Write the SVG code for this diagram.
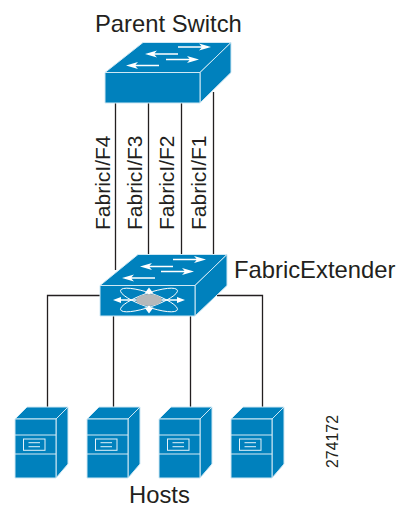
<svg xmlns="http://www.w3.org/2000/svg" width="397" height="508" viewBox="0 0 397 508">
<style>
text{font-family:"Liberation Sans",Arial,sans-serif;fill:#231f20;font-size:23.8px}
.v{font-size:21px}
.c{fill:none;stroke:#231f20;stroke-width:1.3}
.o{fill:#0081bd;stroke:#cfe8f4;stroke-width:1;stroke-linejoin:round}
.l{fill:none;stroke:#d5ebf5;stroke-width:1}
.a{fill:#fff;stroke:none}
.e{fill:none;stroke:#fff;stroke-width:0.9}
</style>
<defs>
<path id="ar" class="a" d="M0 0L-12 -3.400L-9.500 -0.800H-33V0.800H-9.500L-12 3.400z"/>
<path id="al" class="a" d="M0 0L12 -3.400L9.500 -0.800H33V0.800H9.500L12 3.400z"/>
<g id="host">
<path class="o" d="M0 12L12 0H53L41 12z"/>
<path class="o" d="M41 12L53 0V57L41 71z"/>
<path class="o" d="M0 12H41V71H0z"/>
<path class="l" d="M0 28H41M0 47H41"/>
<rect x="8.500" y="32" width="21.500" height="11.300" fill="#0081bd" stroke="#e4f2f9" stroke-width="1"/>
<path d="M13.500 35.700H25M13.500 39.700H25" stroke="#b5dcee" stroke-width="1.200"/>
</g>
</defs>
<g id="connectors">
<path class="c" d="M115.500 103V270M148.500 103V262M181.500 103V262M213.500 92V254"/>
<path class="c" d="M100 295.500H47.500V407M217 295.500H262.500V407M113.500 316V407M190.500 316V407"/>
</g>
<g id="parent-switch">
<path class="o" d="M105 72.500L143 42.500H231L200 72.500z"/>
<path class="o" d="M200 72.500L231 42.500V72.500L200 103z"/>
<rect class="o" x="105" y="72.500" width="95" height="30.500"/>
<use href="#ar" x="211" y="47"/>
<use href="#al" x="145" y="54"/>
<use href="#ar" x="199" y="59.500"/>
<use href="#al" x="126" y="65.500"/>
<text x="95" y="32">Parent Switch</text>
</g>
<g id="fabric-extender">
<path class="o" d="M100 285.500L138 254.500H227L195 285.500z"/>
<path class="o" d="M195 285.500L227 254.500V285.500L195 316z"/>
<rect class="o" x="100" y="285.500" width="95" height="30.500"/>
<use href="#ar" x="206" y="259.500"/>
<use href="#al" x="140" y="266.500"/>
<use href="#ar" x="194" y="271.500"/>
<use href="#al" x="122" y="278"/>
<ellipse class="e" cx="149" cy="300" rx="30" ry="7" transform="rotate(19 149 300)"/>
<ellipse class="e" cx="149" cy="300" rx="30" ry="7" transform="rotate(-19 149 300)"/>
<path class="a" d="M113 300L121 297V299.300H177V297L185 300L177 303V300.700H121V303zM149 287.500L153.500 293.500H150.100V307.500H153.500L149 313.500L144.500 307.500H147.900V293.500H144.500z"/>
<ellipse cx="149" cy="300" rx="13" ry="6" fill="#b5b8ba"/>
<text x="234" y="278">FabricExtender</text>
</g>
<g id="labels">
<text class="v" transform="translate(110,230) rotate(-90)">FabricI/F4</text>
<text class="v" transform="translate(142,230) rotate(-90)">FabricI/F3</text>
<text class="v" transform="translate(174,230) rotate(-90)">FabricI/F2</text>
<text class="v" transform="translate(206,230) rotate(-90)">FabricI/F1</text>
</g>
<g id="host-1"><use href="#host" x="15" y="407"/></g>
<g id="host-2"><use href="#host" x="87" y="407"/></g>
<g id="host-3"><use href="#host" x="159" y="407"/></g>
<g id="host-4"><use href="#host" x="231" y="407"/></g>
<text x="129" y="503">Hosts</text>
<text transform="translate(338,468) rotate(-90)" style="font-size:15.900px">274172</text>
</svg>
